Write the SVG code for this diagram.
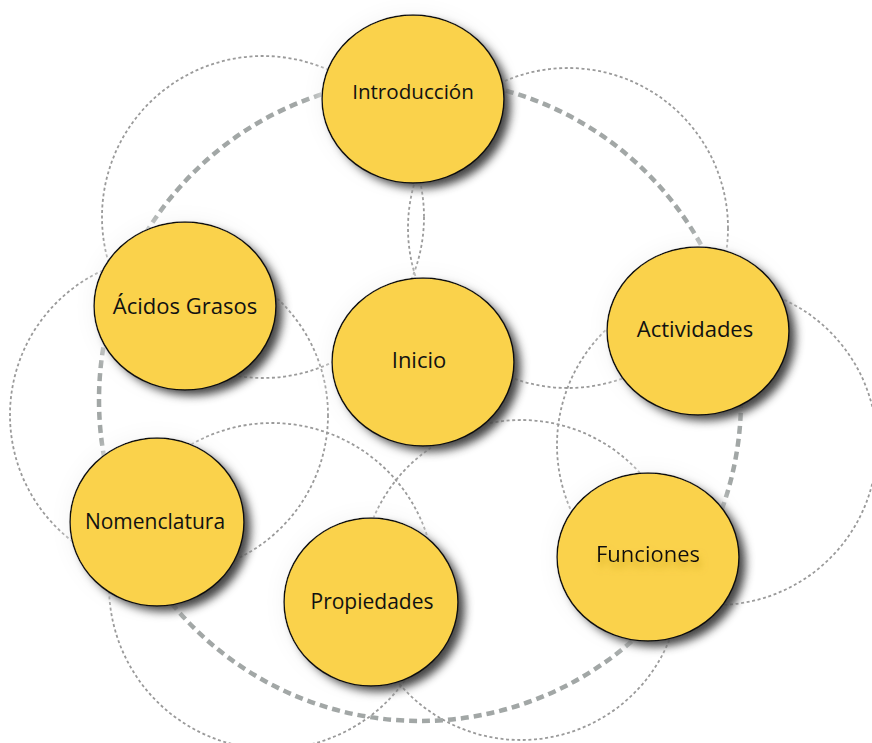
<svg xmlns="http://www.w3.org/2000/svg" width="872" height="743" viewBox="0 0 872 743">
  <style>
    .ring { fill: none; stroke: #a2a7a6; stroke-width: 4.5; stroke-dasharray: 8 5; }
    .orbit { fill: none; stroke: #9a9a9a; stroke-width: 1.8; stroke-dasharray: 3 2.6; }
    .node ellipse { fill: #fad24c; stroke: #111; stroke-width: 1.5; filter: url(#nodeShadow); }
    .node text { font-family: "Open Sans", "Noto Sans", sans-serif; font-size: 22px; fill: #111; text-anchor: middle; }
  </style>
  <defs>
    <filter id="nodeShadow" x="-40%" y="-40%" width="180%" height="180%">
      <!-- soft pale halo that fades the lines around each bubble -->
      <feGaussianBlur in="SourceAlpha" stdDeviation="11" result="haloBlur"/>
      <feFlood flood-color="#f4f4f4" result="haloColor"/>
      <feComposite in="haloColor" in2="haloBlur" operator="in" result="halo"/>
      <!-- dark drop shadow to the lower right -->
      <feGaussianBlur in="SourceAlpha" stdDeviation="4.5" result="shBlur"/>
      <feOffset in="shBlur" dx="7" dy="6" result="shOff"/>
      <feComponentTransfer in="shOff" result="shadow">
        <feFuncA type="linear" slope="0.9"/>
      </feComponentTransfer>
      <feMerge>
        <feMergeNode in="halo"/>
        <feMergeNode in="shadow"/>
        <feMergeNode in="SourceGraphic"/>
      </feMerge>
    </filter>
    <filter id="textGlow" x="-20%" y="-60%" width="140%" height="220%">
      <feGaussianBlur in="SourceAlpha" stdDeviation="3.5" result="tb"/>
      <feOffset in="tb" dx="2" dy="6" result="to"/>
      <feFlood flood-color="#b8901c" flood-opacity="0.55"/>
      <feComposite in2="to" operator="in" result="glow"/>
      <feMerge>
        <feMergeNode in="glow"/>
        <feMergeNode in="SourceGraphic"/>
      </feMerge>
    </filter>
  </defs>

  <rect width="872" height="743" fill="#ffffff"/>

  <g id="connectors">
    <!-- thin dotted orbits linking neighbouring topics -->
    <circle class="orbit" cx="263" cy="217" r="161"/>
    <circle class="orbit" cx="568" cy="228" r="160"/>
    <circle class="orbit" cx="169" cy="415" r="159"/>
    <circle class="orbit" cx="272" cy="586" r="163"/>
    <circle class="orbit" cx="521" cy="580" r="160"/>
    <circle class="orbit" cx="717" cy="445" r="160"/>
    <!-- main dashed ring through the outer topics -->
    <circle class="ring" cx="420" cy="400" r="321"/>
  </g>

  <g id="introduccion" class="node">
    <ellipse cx="413" cy="99" rx="91" ry="84"/>
    <text x="413" y="99" style="font-size:20.6px">Introducción</text>
  </g>

  <g id="acidos-grasos" class="node">
    <ellipse cx="185" cy="306" rx="91" ry="84"/>
    <text x="185" y="314">Ácidos Grasos</text>
  </g>

  <g id="inicio" class="node">
    <ellipse cx="423" cy="362" rx="91" ry="84"/>
    <text x="419" y="368">Inicio</text>
  </g>

  <g id="actividades" class="node">
    <ellipse cx="698" cy="331" rx="91" ry="84"/>
    <text x="695" y="337">Actividades</text>
  </g>

  <g id="nomenclatura" class="node">
    <ellipse cx="157" cy="522" rx="87" ry="84"/>
    <text x="155" y="529" style="font-size:21px">Nomenclatura</text>
  </g>

  <g id="propiedades" class="node">
    <ellipse cx="371" cy="602" rx="87" ry="84"/>
    <text x="372" y="609" style="font-size:21px">Propiedades</text>
  </g>

  <g id="funciones" class="node">
    <ellipse cx="648" cy="557" rx="91" ry="84"/>
    <text x="648" y="562" filter="url(#textGlow)">Funciones</text>
  </g>
</svg>
